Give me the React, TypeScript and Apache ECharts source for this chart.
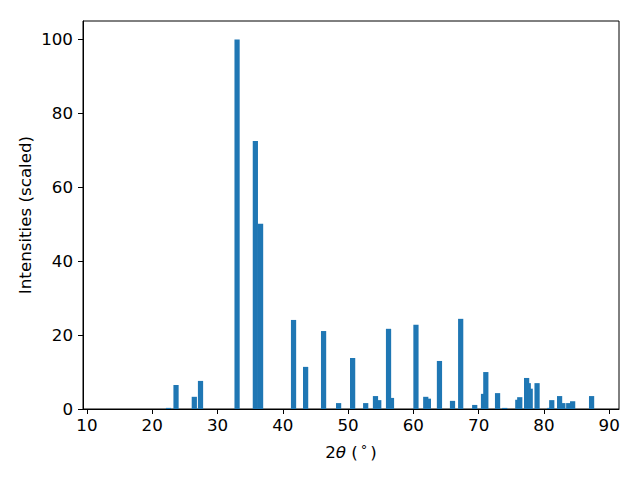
import React, { useEffect, useRef } from "react";
import * as echarts from "echarts";

const positions = [22.5, 23.65, 26.45, 27.4, 33.0, 35.8, 36.6, 41.65, 43.5, 46.25, 48.55, 50.7, 52.7, 54.2, 54.7, 56.2, 56.65, 60.4, 61.9, 62.3, 64.0, 66.0, 67.25, 69.4, 70.75, 71.1, 72.9, 74.0, 76.0, 76.3, 77.35, 77.6, 77.9, 78.95, 80.9, 81.2, 82.4, 82.9, 83.8, 84.4, 87.3];
const intensities = [0.3, 6.5, 3.3, 7.6, 100, 72.5, 50.1, 24.1, 11.4, 21.1, 1.6, 13.8, 1.6, 3.5, 2.4, 21.7, 3.0, 22.8, 3.3, 2.8, 13.0, 2.2, 24.4, 1.1, 4.1, 10.0, 4.3, 0.3, 2.5, 3.2, 8.4, 7.0, 5.5, 7.0, 0.3, 2.4, 3.5, 1.6, 1.6, 2.1, 3.5];
const xTicks = [10, 20, 30, 40, 50, 60, 70, 80, 90];
const yTicks = [0, 20, 40, 60, 80, 100];

const BAR_WIDTH = 0.8;
const FONT = "DejaVu Sans";

export default function App() {
  const ref = useRef<HTMLDivElement>(null);
  useEffect(() => {
    if (!ref.current) return;
    const chart = echarts.init(ref.current, undefined, { renderer: "svg" });
    const data = positions.map((p, i) => [p, intensities[i]]);
    chart.setOption({
      animation: false,
      backgroundColor: "#ffffff",
      grid: {
        left: 83,
        right: 21,
        top: 21,
        bottom: 71,
        show: true,
        borderColor: "#000",
        borderWidth: 1,
        backgroundColor: "transparent",
      },
      xAxis: {
        type: "value",
        min: 9.4,
        max: 91.5,
        name: "2{i|θ} ({d|°})",
        nameLocation: "middle",
        nameGap: 34,
        nameMoveOverlap: false,
        nameTextStyle: {
          fontFamily: FONT,
          fontSize: 16.7,
          color: "#000",
          rich: {
            i: { fontFamily: FONT, fontStyle: "italic", fontSize: 16.7, color: "#000" },
            d: { fontFamily: FONT, fontSize: 13, color: "#000", padding: [0, 3, 4, 3] },
          },
        },
        axisLine: { show: true, onZero: false, lineStyle: { color: "#000", width: 1 } },
        axisTick: { show: true, inside: false, length: 5, lineStyle: { color: "#000" }, customValues: xTicks },
        axisLabel: { fontFamily: FONT, fontSize: 16.7, color: "#000", margin: 7, customValues: xTicks },
        splitLine: { show: false },
      },
      yAxis: {
        type: "value",
        min: 0,
        max: 105,
        name: "Intensities (scaled)",
        nameLocation: "middle",
        nameGap: 50,
        nameMoveOverlap: false,
        nameTextStyle: { fontFamily: FONT, fontSize: 16.7, color: "#000" },
        axisLine: { show: true, onZero: false, lineStyle: { color: "#000", width: 1 } },
        axisTick: { show: true, inside: false, length: 5, lineStyle: { color: "#000" }, customValues: yTicks },
        axisLabel: { fontFamily: FONT, fontSize: 16.7, color: "#000", margin: 10, customValues: yTicks },
        splitLine: { show: false },
      },
      series: [
        {
          type: "custom",
          data,
          clip: true,
          renderItem: (params: any, api: any) => {
            const x = api.value(0);
            const y = api.value(1);
            const p0 = api.coord([x - BAR_WIDTH / 2, 0]);
            const p1 = api.coord([x + BAR_WIDTH / 2, y]);
            return {
              type: "rect",
              shape: { x: p0[0], y: p1[1], width: p1[0] - p0[0], height: p0[1] - p1[1] },
              style: { fill: "#1f77b4" },
            };
          },
        },
      ],
    });
    return () => chart.dispose();
  }, []);
  return (
    <div
      ref={ref}
      style={{ position: "absolute", left: 0, top: 0, width: 640, height: 480, background: "#fff" }}
    />
  );
}
